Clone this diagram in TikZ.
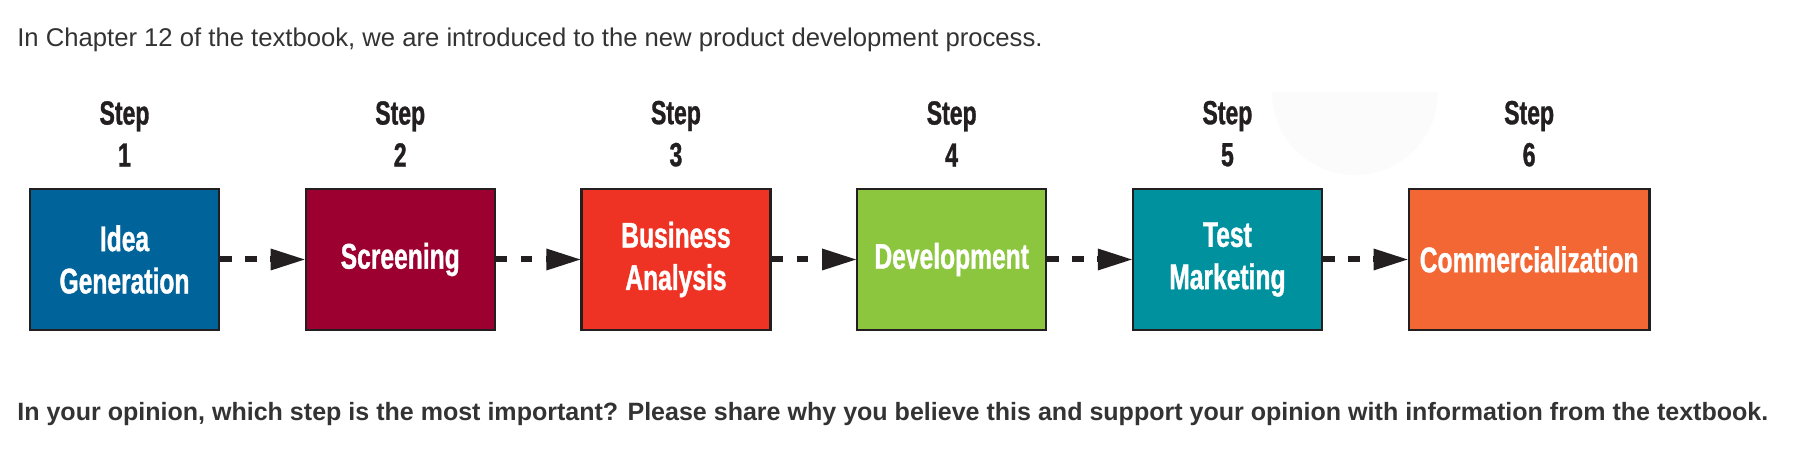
\documentclass[tikz,border=0pt]{standalone}
\usepackage{fontspec}
\setmainfont{Liberation Sans}
\newfontfamily\condfont[FakeStretch=0.69, FakeBold=1]{Liberation Sans}
\usetikzlibrary{positioning, arrows.meta}
\definecolor{clridea}{HTML}{00649B}
\definecolor{clrscreen}{HTML}{9B0030}
\definecolor{clrbusiness}{HTML}{EE3325}
\definecolor{clrdevelop}{HTML}{8CC63F}
\definecolor{clrtest}{HTML}{00919F}
\definecolor{clrcommerce}{HTML}{F36735}
\definecolor{clrborder}{HTML}{231F20}
\definecolor{clrtext}{HTML}{333333}
\definecolor{clrhalo}{HTML}{FCFBFB}

\begin{document}
\begin{tikzpicture}[
    x=0.02cm, y=-0.02cm,
    stagebox/.style={draw=clrborder, line width=1.3pt, minimum width=3.78cm,
                     minimum height=2.82cm, inner sep=0pt, align=center, text=white,
                     font=\condfont\bfseries\fontsize{20.3}{24.1}\selectfont},
    steplabel/.style={align=center, inner sep=0pt, text=clrborder,
                      font=\condfont\bfseries\fontsize{19}{23.9}\selectfont},
    flow/.style={color=clrborder, line width=0.12cm, dash pattern=on 0.23cm off 0.27cm,
                 -{Triangle[length=0.68cm, width=0.44cm, line width=0pt]}},
    caption/.style={anchor=west, inner sep=0pt, text=clrtext,
                    font=\fontsize{14.6}{17}\selectfont},
    question/.style={caption, font=\bfseries\fontsize{14.25}{17}\selectfont},
]
\useasboundingbox (0,0) rectangle (1812,472);
\fill[white] (0,0) rectangle (1812,472);
\fill[clrhalo] (1272,92) arc[start angle=180, end angle=0, radius=83] -- cycle;

\node[caption] (title) at (17,40) {In Chapter 12 of the textbook, we are introduced to the new product development process.};

\node[stagebox, fill=clridea] (b_1) at (124.5,259.5) {Idea\\Generation};
\node[stagebox, fill=clrscreen, right=1.69cm of b_1] (b_2) {Screening};
\node[stagebox, fill=clrbusiness, right=1.69cm of b_2] (b_3) {Business\\Analysis};
\node[stagebox, fill=clrdevelop, right=1.69cm of b_3] (b_4) {Development};
\node[stagebox, fill=clrtest, right=1.69cm of b_4] (b_5) {Test\\Marketing};
\node[stagebox, fill=clrcommerce, minimum width=4.82cm, right=1.69cm of b_5] (b_6) {Commercialization};

\foreach \i in {1,...,6}
  \node[steplabel, above=0.42cm of b_\i] (s_\i) {Step\\\i};

\draw[flow] (b_1.east) -- (b_2.west);
\draw[flow] (b_2.east) -- (b_3.west);
\draw[flow] (b_3.east) -- (b_4.west);
\draw[flow] (b_4.east) -- (b_5.west);
\draw[flow] (b_5.east) -- (b_6.west);

\node[question] (ask) at (17,414) {In your opinion, which step is the most important? Please share why you believe this and support your opinion with information from the textbook.};
\end{tikzpicture}
\end{document}
